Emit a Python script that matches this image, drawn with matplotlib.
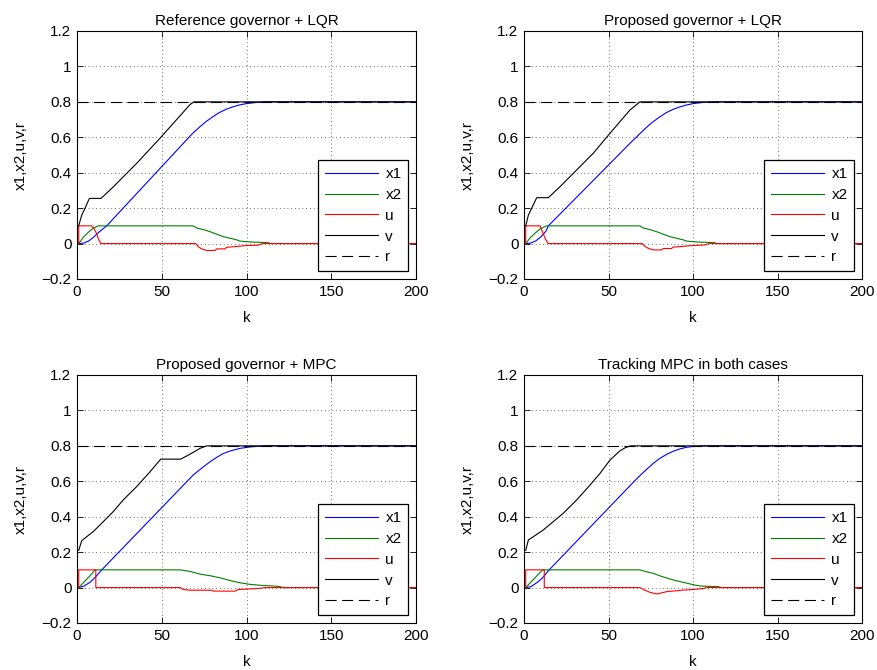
import matplotlib
matplotlib.use("Agg")
import matplotlib.pyplot as plt

plt.rcParams['font.family'] = ['Liberation Sans', 'DejaVu Sans']

titles = ["Reference governor + LQR", "Proposed governor + LQR",
          "Proposed governor + MPC", "Tracking MPC in both cases"]
legend_labels = ["x1", "x2", "u", "v", "r"]
x_ticks = [0, 50, 100, 150, 200]
y_ticks = [-0.2, 0, 0.2, 0.4, 0.6, 0.8, 1.0, 1.2]
y_tick_labels = ["\u22120.2", "0", "0.2", "0.4", "0.6", "0.8", "1", "1.2"]
r_value = 0.8

# ---- Reference governor + LQR ----
tl_x1_k = [1, 4, 7, 10, 13, 17.5, 68, 72, 76, 80, 84, 88, 92, 96, 100, 105, 112, 200]
tl_x1_v = [0, 0.003, 0.015, 0.038, 0.065, 0.1, 0.62, 0.655, 0.688, 0.715, 0.74, 0.758, 0.772, 0.783, 0.79, 0.796, 0.8, 0.8]
tl_x2_k = [1, 3.7, 6.7, 9.6, 12.6, 68.5, 70.6, 74.5, 78.5, 82.4, 86.3, 90.3, 94.2, 96.2, 102.1, 112.9, 114, 200]
tl_x2_v = [0, 0.036, 0.064, 0.087, 0.1, 0.1, 0.088, 0.079, 0.067, 0.053, 0.039, 0.030, 0.021, 0.014, 0.009, 0.005, 0, 0]
tl_u_k = [1, 1, 8.7, 10, 11.6, 12.6, 14, 70, 71.6, 73.5, 76.5, 81.4, 82.4, 87.3, 88.3, 92.2, 100.1, 107, 108, 110, 200]
tl_u_v = [0, 0.1, 0.1, 0.085, 0.055, 0.027, 0, 0, -0.018, -0.030, -0.039, -0.039, -0.030, -0.030, -0.021, -0.018, -0.011, -0.009, -0.004, 0, 0]
tl_v_k = [1, 2.8, 4.7, 7.3, 14.2, 21.4, 35.2, 49, 66.7, 69, 200]
tl_v_v = [0.1, 0.161, 0.199, 0.255, 0.255, 0.32, 0.453, 0.595, 0.785, 0.8, 0.8]

# ---- Proposed governor + LQR ----
tr_x1_k = [1, 4, 7, 10, 13, 14.4, 62.7, 68, 72, 76, 80, 84, 88, 92, 96, 100, 105, 112, 200]
tr_x1_v = [0, 0.003, 0.015, 0.038, 0.07, 0.1, 0.566, 0.615, 0.652, 0.685, 0.713, 0.738, 0.757, 0.771, 0.782, 0.79, 0.796, 0.8, 0.8]
tr_x2_k = [1, 3.7, 6.7, 9.6, 13.4, 68.5, 70.6, 74.5, 78.5, 82.4, 86.3, 90.3, 94.2, 96.2, 102.1, 112.9, 114, 200]
tr_x2_v = [0, 0.033, 0.06, 0.083, 0.1, 0.1, 0.088, 0.079, 0.067, 0.053, 0.039, 0.030, 0.021, 0.014, 0.009, 0.005, 0, 0]
tr_u_k = [1, 1, 9.5, 11.4, 13, 14.4, 70, 71.6, 73.5, 76.5, 81.4, 82.4, 87.3, 88.3, 92.2, 100.1, 107, 108, 110, 200]
tr_u_v = [0, 0.1, 0.1, 0.055, 0.02, 0, 0, -0.016, -0.027, -0.036, -0.036, -0.028, -0.028, -0.02, -0.017, -0.011, -0.008, -0.004, 0, 0]
tr_v_k = [1, 2.6, 4.5, 7.5, 14.4, 21.3, 31.2, 41, 50.9, 62.7, 68.6, 200]
tr_v_v = [0.1, 0.161, 0.199, 0.259, 0.259, 0.321, 0.416, 0.51, 0.623, 0.754, 0.8, 0.8]

# ---- Proposed governor + MPC ----
bl_x1_k = [1, 4, 7.7, 10.5, 14.6, 66.7, 68.6, 72, 75, 78.5, 82.4, 86, 90, 96.2, 103, 112, 200]
bl_x1_v = [0, 0.008, 0.03, 0.055, 0.1, 0.617, 0.636, 0.662, 0.685, 0.71, 0.735, 0.755, 0.77, 0.786, 0.795, 0.8, 0.8]
bl_x2_k = [1, 3, 5, 7, 9, 10.5, 60.8, 66.7, 72.6, 78.5, 84.4, 90.3, 96.2, 102.1, 108, 118.8, 122, 200]
bl_x2_v = [0, 0.02, 0.04, 0.06, 0.08, 0.1, 0.1, 0.091, 0.076, 0.067, 0.055, 0.04, 0.027, 0.018, 0.013, 0.007, 0, 0]
bl_u_k = [1, 1, 11.1, 11.1, 61, 62.7, 66.7, 79.5, 80.4, 93.2, 95.2, 99.1, 107, 110.9, 200]
bl_u_v = [0, 0.1, 0.1, 0, 0, -0.011, -0.015, -0.015, -0.02, -0.02, -0.011, -0.009, -0.005, 0, 0]
bl_v_k = [1, 2.8, 5.7, 9.6, 15.5, 21.4, 27.3, 35.2, 43.1, 49.4, 61.2, 66.7, 72.6, 76.5, 200]
bl_v_v = [0.21, 0.265, 0.287, 0.316, 0.372, 0.429, 0.495, 0.57, 0.654, 0.725, 0.725, 0.753, 0.786, 0.8, 0.8]

# ---- Tracking MPC in both cases ----
br_x1_k = [1, 4, 8, 11, 14.4, 62.7, 68.6, 72.6, 76.5, 80.5, 84.4, 88.4, 92.3, 96.3, 100.2, 108, 200]
br_x1_v = [0, 0.005, 0.03, 0.055, 0.095, 0.575, 0.632, 0.668, 0.701, 0.73, 0.752, 0.77, 0.783, 0.792, 0.797, 0.8, 0.8]
br_x2_k = [1, 3, 5, 7, 9, 11, 68.6, 72.6, 76.5, 80.5, 84.4, 88.4, 92.3, 96.3, 100.2, 104.1, 115, 117, 200]
br_x2_v = [0, 0.02, 0.04, 0.06, 0.08, 0.1, 0.1, 0.089, 0.080, 0.066, 0.054, 0.043, 0.034, 0.025, 0.016, 0.009, 0.005, 0, 0]
br_u_k = [1, 1, 12, 12, 68.6, 70.6, 74.6, 78.5, 80.5, 84.4, 90.3, 94.3, 100.2, 106.1, 108.1, 200]
br_u_v = [0, 0.1, 0.1, 0, 0, -0.011, -0.027, -0.036, -0.032, -0.023, -0.018, -0.014, -0.011, -0.005, 0, 0]
br_v_k = [1, 2.6, 5.5, 11.4, 17.3, 23.3, 31.2, 39.1, 45, 50.9, 56.8, 60, 63, 200]
br_v_v = [0.21, 0.269, 0.287, 0.325, 0.372, 0.42, 0.495, 0.579, 0.645, 0.72, 0.772, 0.79, 0.8, 0.8]

panels = [
    (tl_x1_k, tl_x1_v, tl_x2_k, tl_x2_v, tl_u_k, tl_u_v, tl_v_k, tl_v_v),
    (tr_x1_k, tr_x1_v, tr_x2_k, tr_x2_v, tr_u_k, tr_u_v, tr_v_k, tr_v_v),
    (bl_x1_k, bl_x1_v, bl_x2_k, bl_x2_v, bl_u_k, bl_u_v, bl_v_k, bl_v_v),
    (br_x1_k, br_x1_v, br_x2_k, br_x2_v, br_u_k, br_u_v, br_v_k, br_v_v),
]

W, H = 877, 670
fig = plt.figure(figsize=(W / 100, H / 100), dpi=100)
fig.patch.set_facecolor('white')

# axes boxes in pixels (left, top, right, bottom)
boxes = [(77, 31, 416, 279), (524, 31, 862, 279),
         (77, 375, 416, 623), (524, 375, 862, 623)]

FS = 11
lw = 0.8
for (l, t, r, b), title, data in zip(boxes, titles, panels):
    ax = fig.add_axes([l / W, 1 - b / H, (r - l) / W, (b - t) / H])
    x1k, x1v, x2k, x2v, uk, uv, vk, vv = data
    h1, = ax.plot(x1k, x1v, color='#0000ff', lw=lw)
    h2, = ax.plot(x2k, x2v, color='#008000', lw=lw)
    h3, = ax.plot(uk, uv, color='#ff0000', lw=lw)
    h4, = ax.plot(vk, vv, color='#000000', lw=lw)
    h5, = ax.plot([0, 200], [r_value, r_value], color='#000000', lw=lw,
                  linestyle=(0, (10, 5)))
    ax.set_xlim(0, 200)
    ax.set_ylim(-0.2, 1.2)
    ax.set_xticks(x_ticks)
    ax.set_yticks(y_ticks)
    ax.set_yticklabels(y_tick_labels)
    ax.tick_params(direction='in', top=True, right=True, length=4,
                   width=0.6, labelsize=FS, pad=4)
    ax.grid(True, color='0.25', linestyle=(0, (1, 3.5)), linewidth=0.6)
    for s in ax.spines.values():
        s.set_linewidth(0.8)
    ax.set_title(title, fontsize=FS, pad=4)
    ax.set_xlabel('k', fontsize=FS, labelpad=9)
    ax.set_ylabel('x1,x2,u,v,r', fontsize=FS, labelpad=10)
    leg = ax.legend([h1, h2, h3, h4, h5], legend_labels,
                    loc='lower right', fontsize=FS, handlelength=3.5,
                    handletextpad=0.45, labelspacing=0.45, borderpad=0.45,
                    borderaxespad=0.5, fancybox=False, framealpha=1,
                    edgecolor='k')
    leg.get_frame().set_linewidth(0.9)

fig.savefig('out.png', dpi=100, facecolor='white')
